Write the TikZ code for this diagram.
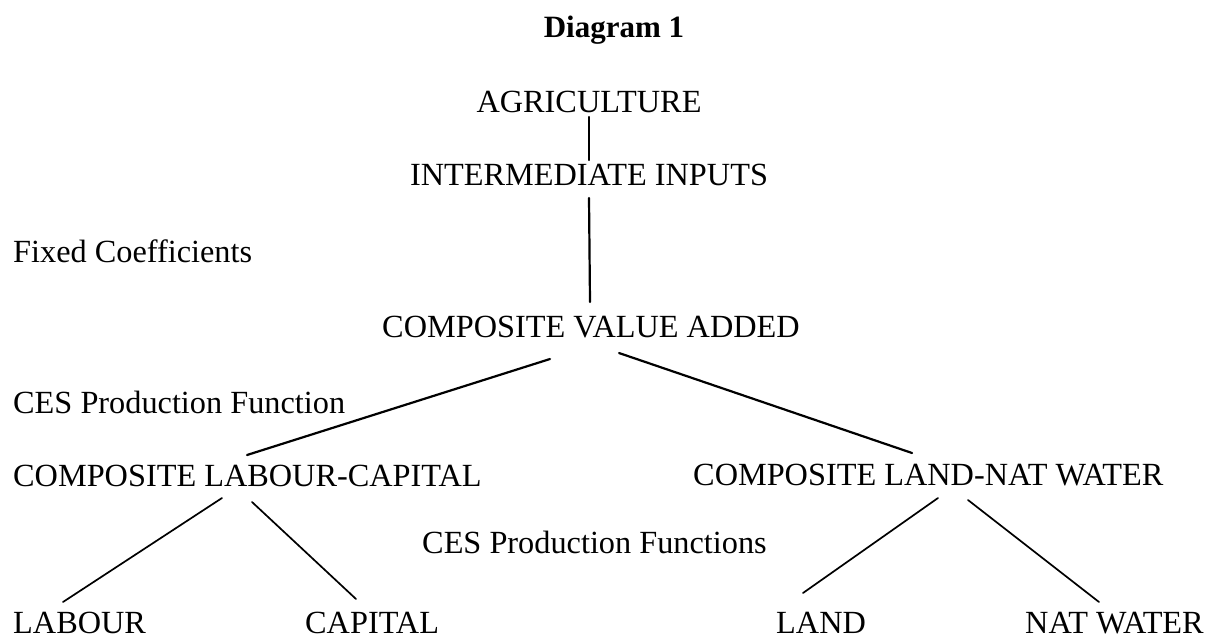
\documentclass[tikz,border=0pt]{standalone}
\usepackage{fontspec}
\setmainfont{Liberation Serif}
\begin{document}
\begin{tikzpicture}[x=1pt,y=-1pt,
  lbl/.style={inner sep=0pt,font=\fontsize{32.3}{36}\selectfont},
  ttl/.style={inner sep=0pt,font=\fontsize{31}{36}\selectfont\bfseries},
  thick line/.style={line width=2.2pt,line cap=round},
  thin line/.style={line width=1.7pt,line cap=round}]
\useasboundingbox (0,0) rectangle (1212,638);
% titles and labels
\node[ttl,anchor=base] (title) at (614,37) {Diagram 1};
\node[lbl,anchor=base] (agri) at (589,112) {AGRICULTURE};
\node[lbl,anchor=base] (inter) at (589,185) {INTERMEDIATE INPUTS};
\node[lbl,anchor=base west] (fixed) at (13,262) {Fixed Coefficients};
\node[lbl,anchor=base] (vadd) at (591,337) {COMPOSITE VALUE ADDED};
\node[lbl,anchor=base west] (ces1) at (13,413) {CES Production Function};
\node[lbl,anchor=base west] (lc) at (13,486) {COMPOSITE LABOUR-CAPITAL};
\node[lbl,anchor=base west] (lw) at (693,485) {COMPOSITE LAND-NAT WATER};
\node[lbl,anchor=base west] (ces2) at (422,553) {CES Production Functions};
\node[lbl,anchor=base west] (labour) at (13,633) {LABOUR};
\node[lbl,anchor=base west] (capital) at (305,633) {CAPITAL};
\node[lbl,anchor=base west] (land) at (776,633) {LAND};
\node[lbl,anchor=base west] (water) at (1025,633) {NAT WATER};
% connector end points
\coordinate (agri-b) at (589,117);
\coordinate (inter-t) at (589,160);
\coordinate (inter-b) at (589,198);
\coordinate (vadd-t) at (590,302);
\coordinate (vadd-l) at (550,359);
\coordinate (vadd-r) at (619,353);
\coordinate (lc-t) at (247,455);
\coordinate (lw-t) at (912,453);
\coordinate (lc-l) at (222,498);
\coordinate (lc-r) at (252,502);
\coordinate (lw-l) at (938,498);
\coordinate (lw-r) at (968,500);
\coordinate (labour-t) at (63,602);
\coordinate (capital-t) at (356,599);
\coordinate (land-t) at (803,593);
\coordinate (water-t) at (1099,602);
% connectors
\draw[thick line] (agri-b) -- (inter-t);
\draw[thick line] (inter-b) -- (vadd-t);
\draw[thick line] (vadd-l) -- (lc-t);
\draw[thick line] (vadd-r) -- (lw-t);
\draw[thin line] (lc-l) -- (labour-t);
\draw[thin line] (lc-r) -- (capital-t);
\draw[thin line] (lw-l) -- (land-t);
\draw[thin line] (lw-r) -- (water-t);
\end{tikzpicture}
\end{document}
